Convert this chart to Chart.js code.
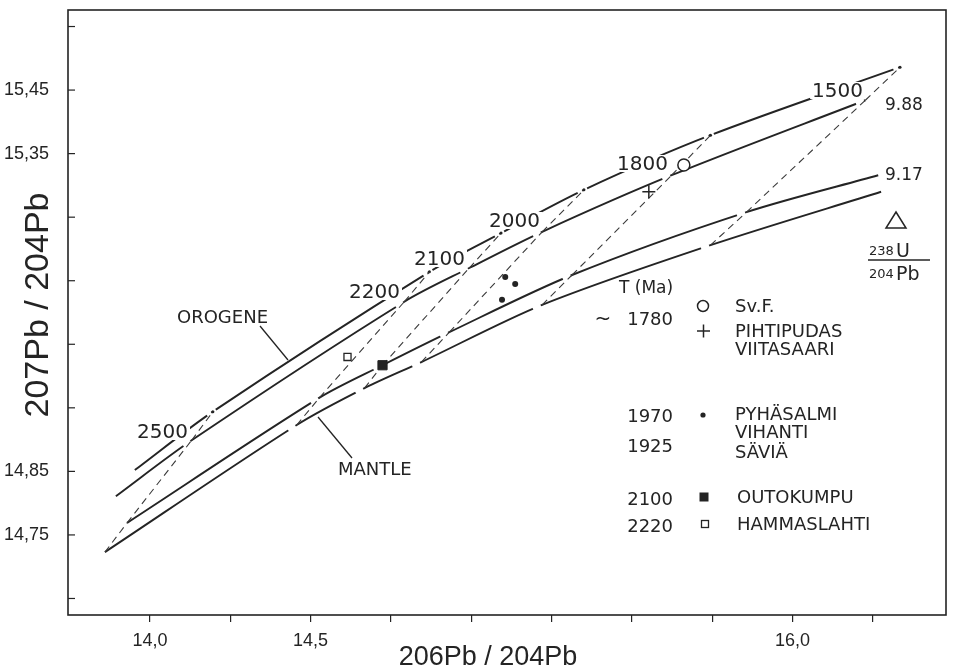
<!DOCTYPE html>
<html lang="fi">
<head>
<meta charset="utf-8">
<title>207Pb/204Pb - 206Pb/204Pb</title>
<script src="https://cdn.jsdelivr.net/npm/chart.js@4.4.1/dist/chart.umd.min.js"></script>
<style>
    html, body { margin: 0; padding: 0; background: #ffffff; }
    #box { width: 954px; height: 672px; }
</style>
</head>
<body>
<div id="box"><canvas id="pbChart" width="954" height="672"></canvas></div>
<script>
const FONT = '"Liberation Sans", Arial, sans-serif';
const LETTER = '"DejaVu Sans", sans-serif';
const INK = '#242424';

// model ages marked on the growth curves (Ma)
const ages = [2500, 2200, 2100, 2000, 1800, 1500];

// upper orogene curve, points at the marked ages
const oroUpX = [14.196, 14.870, 15.093, 15.351, 15.745, 16.335];
const oroUpY = [14.944, 15.164, 15.225, 15.293, 15.379, 15.486];
// 9.88 curve
const oroLowX = [14.130, 14.792, 14.994, 15.221, 15.624, 16.227];
const oroLowY = [14.899, 15.117, 15.170, 15.227, 15.316, 15.434];
// 9.17 curve
const manUpX = [13.929, 14.528, 14.724, 14.932, 15.314, 15.857];
const manUpY = [14.769, 14.966, 15.017, 15.069, 15.159, 15.258];
// lower mantle curve
const manLowX = [13.860, 14.457, 14.668, 14.845, 15.221, 15.745];
const manLowY = [14.723, 14.923, 14.981, 15.022, 15.112, 15.206];

// curve ends without an age mark
const oroUpStart = [13.953, 14.852];
const oroLowStart = [13.894, 14.811];
const manUpEnd = [16.267, 15.316];
const manLowEnd = [16.276, 15.290];

// ore samples
const svfX = [15.662];
const svfY = [15.332];
const pihtiX = [15.553];
const pihtiY = [15.290];
const pyhaX = [15.106, 15.137, 15.096];
const pyhaY = [15.156, 15.145, 15.120];
const outoX = [14.724];
const outoY = [15.017];
const hammaX = [14.615];
const hammaY = [15.030];

// axes
const xMin = 13.745, xMax = 16.478;
const yMin = 14.624, yMax = 15.576;
const xTicks = [14.0, 14.25, 14.5, 14.75, 15.0, 15.25, 15.5, 15.75, 16.0, 16.25];
const xTickLabels = ['14,0', '', '14,5', '', '', '', '', '', '16,0', ''];
const yTicks = [14.65, 14.75, 14.85, 14.95, 15.05, 15.15, 15.25, 15.35, 15.45, 15.55];
const yTickLabels = ['', '14,75', '14,85', '', '', '', '', '15,35', '15,45', ''];

function xy(xs, ys) {
    return xs.map((v, i) => ({ x: v, y: ys[i] }));
}

function curveSet(data, firstAge, mark) {
    return {
        data: data,
        showLine: true,
        borderColor: INK,
        borderWidth: 1.9,
        pointRadius: 0,
        tension: 0.3,
        order: 3,
        firstAge: firstAge,
        mark: mark
    };
}

const datasets = [
    curveSet([{ x: oroUpStart[0], y: oroUpStart[1] }].concat(xy(oroUpX, oroUpY)), 1, 'dot'),
    curveSet([{ x: oroLowStart[0], y: oroLowStart[1] }].concat(xy(oroLowX, oroLowY)), 1, 'arrow'),
    curveSet(xy(manUpX, manUpY).concat([{ x: manUpEnd[0], y: manUpEnd[1] }]), 0, 'arrow'),
    curveSet(xy(manLowX, manLowY).concat([{ x: manLowEnd[0], y: manLowEnd[1] }]), 0, 'arrow')
];

// dashed age lines, each piece drawn from the lower curve upwards
ages.forEach((age, i) => {
    const chain = [
        { x: manLowX[i], y: manLowY[i] },
        { x: manUpX[i], y: manUpY[i] },
        { x: oroLowX[i], y: oroLowY[i] },
        { x: oroUpX[i], y: oroUpY[i] }
    ];
    for (let k = 0; k < 3; k++) {
        datasets.push({
            data: [chain[k], chain[k + 1]],
            showLine: true,
            borderColor: '#3a3a3a',
            borderWidth: 1.1,
            borderDash: [7, 5],
            pointRadius: 0,
            order: 2
        });
    }
});

// samples
datasets.push({ data: xy(svfX, svfY), pointStyle: 'circle', pointRadius: 6, pointBorderWidth: 1.5,
    pointBorderColor: INK, pointBackgroundColor: '#ffffff', order: 1 });
datasets.push({ data: xy(pihtiX, pihtiY), pointStyle: 'cross', pointRadius: 6.5, pointBorderWidth: 1.5,
    pointBorderColor: INK, order: 1 });
datasets.push({ data: xy(pyhaX, pyhaY), pointStyle: 'circle', pointRadius: 3, pointBorderWidth: 0,
    pointBackgroundColor: INK, order: 1 });
datasets.push({ data: xy(outoX, outoY), pointStyle: 'rect', pointRadius: 6.5, pointBorderWidth: 1,
    pointBorderColor: INK, pointBackgroundColor: INK, order: 1 });
datasets.push({ data: xy(hammaX, hammaY), pointStyle: 'rect', pointRadius: 5, pointBorderWidth: 1.3,
    pointBorderColor: INK, pointBackgroundColor: '#ffffff', order: 1 });

// white cut in a curve, from p towards q
function cut(ctx, p, q, from, to) {
    const dx = q.x - p.x, dy = q.y - p.y;
    const len = Math.hypot(dx, dy);
    const ux = dx / len, uy = dy / len;
    ctx.strokeStyle = '#ffffff';
    ctx.lineWidth = 5;
    ctx.lineCap = 'butt';
    ctx.beginPath();
    ctx.moveTo(p.x + ux * from, p.y + uy * from);
    ctx.lineTo(p.x + ux * to, p.y + uy * to);
    ctx.stroke();
}

function text(ctx, str, x, y, size, align, family) {
    ctx.font = size + 'px ' + (family || LETTER);
    ctx.textAlign = align || 'left';
    ctx.textBaseline = 'alphabetic';
    ctx.fillStyle = INK;
    ctx.fillText(str, x, y);
}

function line(ctx, x1, y1, x2, y2, w) {
    ctx.strokeStyle = INK;
    ctx.lineWidth = w || 1.3;
    ctx.beginPath();
    ctx.moveTo(x1, y1);
    ctx.lineTo(x2, y2);
    ctx.stroke();
}

const paperPlugin = {
    id: 'paper',
    beforeDraw(chart) {
        const ctx = chart.ctx;
        ctx.save();
        ctx.fillStyle = '#ffffff';
        ctx.fillRect(0, 0, chart.width, chart.height);
        ctx.restore();
    },
    afterDatasetDraw(chart, args) {
        const ds = chart.data.datasets[args.index];
        if (!ds.mark) return;
        const pts = args.meta.data;
        const ctx = chart.ctx;
        ctx.save();
        for (let k = ds.firstAge; k < ds.firstAge + ages.length; k++) {
            const p = pts[k];
            if (k > 0) {
                if (ds.mark === 'dot') cut(ctx, p, pts[k - 1], 2, 7);
                else cut(ctx, p, pts[k - 1], 1.5, 10);
            }
            if (ds.mark === 'dot') {
                if (k + 1 < pts.length) cut(ctx, p, pts[k + 1], 0, 3.5);
                ctx.fillStyle = INK;
                ctx.beginPath();
                ctx.arc(p.x, p.y, 1.5, 0, Math.PI * 2);
                ctx.fill();
            }
        }
        ctx.restore();
    },
    afterDraw(chart) {
        const ctx = chart.ctx;
        const a = chart.chartArea;
        const ys = chart.scales.y;
        ctx.save();

        // frame and inward y ticks
        ctx.strokeStyle = INK;
        ctx.lineWidth = 1.6;
        ctx.strokeRect(a.left, a.top, a.right - a.left, a.bottom - a.top);
        yTicks.forEach(v => {
            const py = ys.getPixelForValue(v);
            line(ctx, a.left, py, a.left + 7, py, 1.2);
        });

        // age labels on the upper curve
        const ageLabels = [['2500', 188, 438], ['2200', 400, 298], ['2100', 465, 265],
            ['2000', 540, 227], ['1800', 668, 170], ['1500', 863, 97]];
        ctx.font = '20px ' + LETTER;
        ageLabels.forEach(l => {
            const w = ctx.measureText(l[0]).width;
            ctx.fillStyle = '#ffffff';
            ctx.fillRect(l[1] - w - 2, l[2] - 15, w + 4, 17);
        });
        ageLabels.forEach(l => text(ctx, l[0], l[1], l[2], 20, 'right'));

        // curve names
        text(ctx, 'OROGENE', 177, 323, 18);
        line(ctx, 260, 326, 288, 360);
        text(ctx, 'MANTLE', 338, 475, 18);
        line(ctx, 318, 417, 352, 458);

        // mu values and 238U/204Pb
        text(ctx, '9.88', 885, 110, 17);
        text(ctx, '9.17', 885, 180, 17);
        ctx.strokeStyle = INK;
        ctx.lineWidth = 1.5;
        ctx.beginPath();
        ctx.moveTo(896, 212);
        ctx.lineTo(906, 228);
        ctx.lineTo(886, 228);
        ctx.closePath();
        ctx.stroke();
        text(ctx, '238', 869, 255, 13);
        text(ctx, 'U', 896, 257, 19);
        line(ctx, 868, 260, 930, 260, 1.3);
        text(ctx, '204', 869, 278, 13);
        text(ctx, 'Pb', 896, 280, 19);

        // legend block
        text(ctx, 'T (Ma)', 619, 293, 17);
        text(ctx, '~', 603, 325, 20, 'center');
        text(ctx, '1780', 673, 325, 18, 'right');
        ctx.lineWidth = 1.5;
        ctx.beginPath();
        ctx.arc(703, 306, 5.5, 0, Math.PI * 2);
        ctx.stroke();
        text(ctx, 'Sv.F.', 735, 312, 18);
        line(ctx, 697, 331, 710, 331, 1.5);
        line(ctx, 703.5, 324.5, 703.5, 337.5, 1.5);
        text(ctx, 'PIHTIPUDAS', 735, 337, 18);
        text(ctx, 'VIITASAARI', 735, 355, 18);

        text(ctx, '1970', 673, 422, 18, 'right');
        ctx.fillStyle = INK;
        ctx.beginPath();
        ctx.arc(703, 415, 2.6, 0, Math.PI * 2);
        ctx.fill();
        text(ctx, 'PYHÄSALMI', 735, 420, 18);
        text(ctx, 'VIHANTI', 735, 438, 18);
        text(ctx, '1925', 673, 452, 18, 'right');
        text(ctx, 'SÄVIÄ', 735, 458, 18);

        text(ctx, '2100', 673, 505, 18, 'right');
        ctx.fillStyle = INK;
        ctx.fillRect(699.5, 492.5, 9, 9);
        text(ctx, 'OUTOKUMPU', 737, 503, 18);
        text(ctx, '2220', 673, 532, 18, 'right');
        ctx.lineWidth = 1.3;
        ctx.strokeRect(701.5, 520.5, 7, 7);
        text(ctx, 'HAMMASLAHTI', 737, 530, 18);

        // axis titles
        text(ctx, '206Pb / 204Pb', 488, 665, 27, 'center', FONT);
        ctx.translate(48, 305);
        ctx.rotate(-Math.PI / 2);
        text(ctx, '207Pb / 204Pb', 0, 0, 34, 'center', FONT);

        ctx.restore();
    }
};

const pbChart = new Chart(document.getElementById('pbChart').getContext('2d'), {
    type: 'scatter',
    data: { datasets: datasets },
    options: {
        responsive: false,
        animation: false,
        events: [],
        layout: { padding: { top: 10, right: 6, left: 0, bottom: 0 } },
        plugins: {
            legend: { display: false },
            tooltip: { enabled: false }
        },
        scales: {
            x: {
                type: 'linear',
                min: xMin,
                max: xMax,
                afterBuildTicks: s => { s.ticks = xTicks.map(v => ({ value: v })); },
                afterFit: s => { s.height = 57; s.paddingLeft = 0; s.paddingRight = 0; },
                border: { display: false },
                grid: {
                    drawOnChartArea: false,
                    drawTicks: true,
                    tickLength: 7,
                    color: INK,
                    lineWidth: 1.2
                },
                ticks: {
                    autoSkip: false,
                    maxRotation: 0,
                    padding: 8,
                    color: INK,
                    font: { family: FONT, size: 18 },
                    callback: (v, i) => xTickLabels[i]
                }
            },
            y: {
                type: 'linear',
                min: yMin,
                max: yMax,
                afterBuildTicks: s => { s.ticks = yTicks.map(v => ({ value: v })); },
                afterFit: s => { s.width = 68; s.paddingTop = 0; s.paddingBottom = 0; },
                border: { display: false },
                grid: { display: false },
                ticks: {
                    autoSkip: false,
                    padding: 11,
                    color: INK,
                    font: { family: FONT, size: 18 },
                    callback: (v, i) => yTickLabels[i]
                }
            }
        }
    },
    plugins: [paperPlugin]
});
</script>
</body>
</html>
